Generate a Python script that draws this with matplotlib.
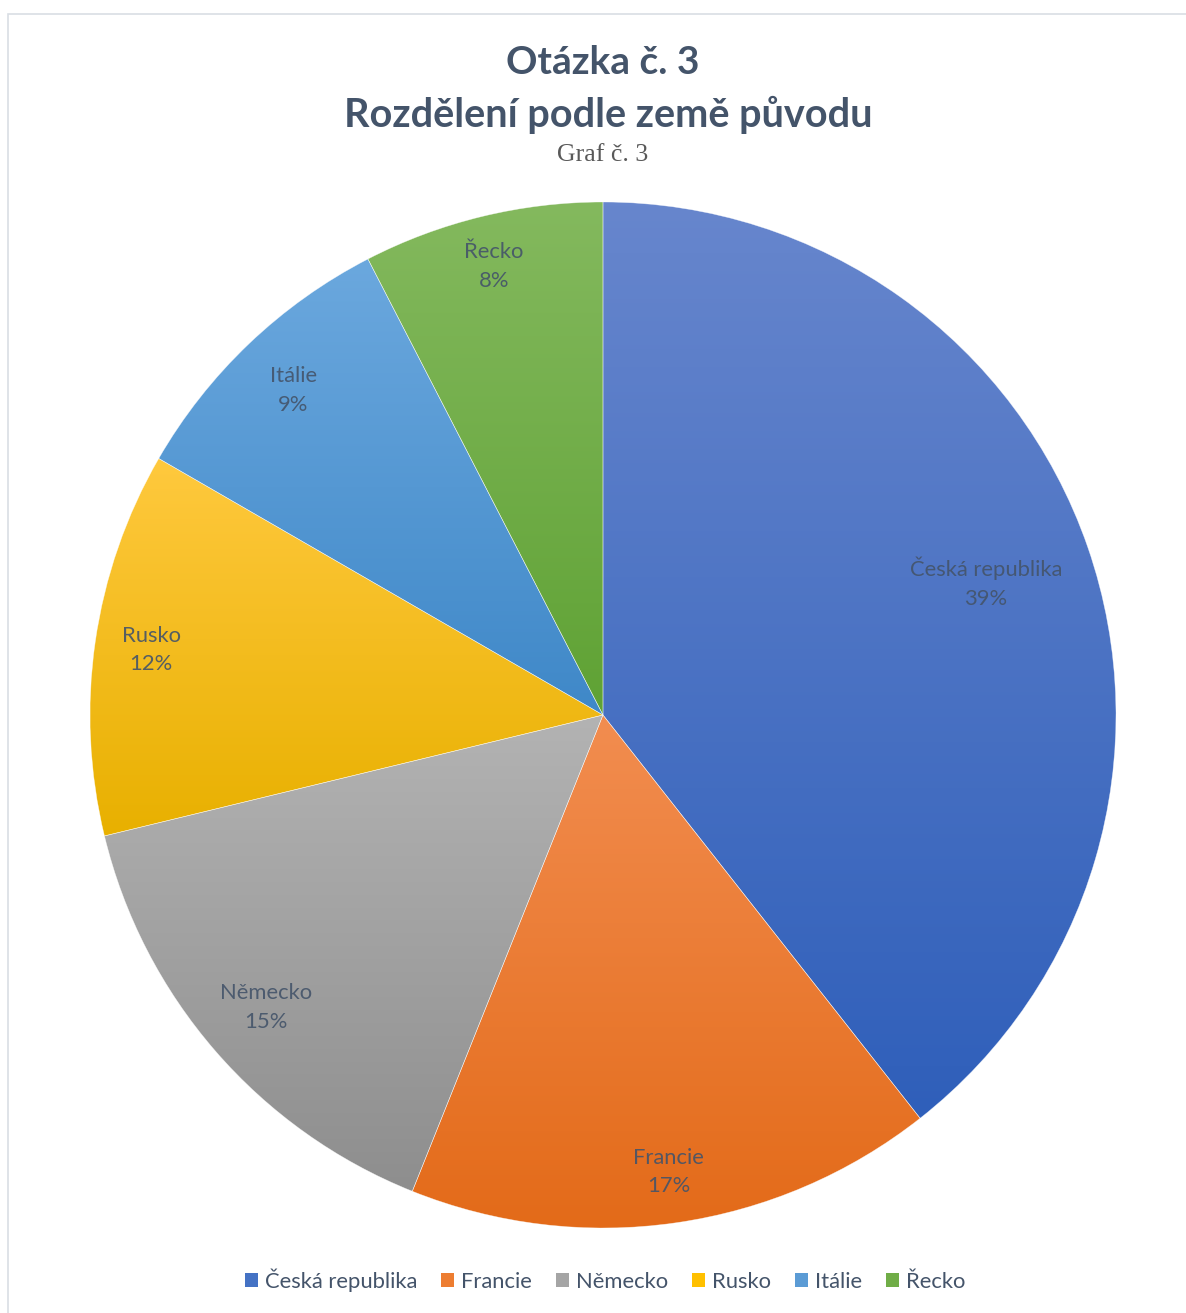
import numpy as np
import matplotlib.pyplot as plt
from matplotlib.colors import LinearSegmentedColormap
from matplotlib.patches import Rectangle

countries = ["Česká republika", "Francie", "Německo", "Rusko", "Itálie", "Řecko"]
counts = [26, 11, 10, 8, 6, 5]
percents = [round(100 * c / sum(counts)) for c in counts]

# gradient top -> bottom per slice (Office look)
top_colors = ["#6786cd", "#f28d50", "#b3b3b3", "#ffc93e", "#6ba8de", "#84b95e"]
bottom_colors = ["#2f5fba", "#e36a18", "#8e8e8e", "#e8b000", "#3f88c8", "#5fa234"]
base_colors = ["#4472c4", "#ed7d31", "#a5a5a5", "#ffc000", "#5b9bd5", "#70ad47"]
label_dist = [0.79, 0.90, 0.87, 0.89, 0.875, 0.90]

W, H = 1186, 1313
fig = plt.figure(figsize=(W / 100, H / 100), dpi=100)
fig.patch.set_facecolor("white")

# chart frame
fig.add_artist(Rectangle((8 / W, -0.01), 1.02, 1 - 14 / H + 0.01, transform=fig.transFigure,
                         fill=False, edgecolor="#d9dee4", linewidth=1.2))

title_color = "#44546a"
fig.text(603 / W, 1 - 62 / H, "Otázka č. 3", ha="center", va="center",
         fontsize=28, fontweight="bold", color=title_color, family="Lato")
fig.text(608 / W, 1 - 115 / H, "Rozdělení podle země původu", ha="center", va="center",
         fontsize=28.5, fontweight="bold", color=title_color, family="Lato")
fig.text(603 / W, 1 - 155 / H, "Graf č. 3", ha="center", va="center",
         fontsize=18.5, color="#595959", family="Liberation Serif")

cx, cy, r = 603, 715, 513
half = 520
ax = fig.add_axes([(cx - half) / W, (H - cy - half) / H, 2 * half / W, 2 * half / H])
lim = half / r
ax.set_xlim(-lim, lim)
ax.set_ylim(-lim, lim)
ax.set_aspect("equal")
ax.axis("off")

wedges, _ = ax.pie(counts, startangle=90, counterclock=False, radius=1,
                   colors=base_colors,
                   wedgeprops=dict(edgecolor=(1, 1, 1, 0.6), linewidth=0.4))

grad = np.linspace(0, 1, 256).reshape(-1, 1)
for w, c_top, c_bot in zip(wedges, top_colors, bottom_colors):
    verts = w.get_path().vertices
    x0, x1 = verts[:, 0].min(), verts[:, 0].max()
    y0, y1 = verts[:, 1].min(), verts[:, 1].max()
    cmap = LinearSegmentedColormap.from_list("g", [c_top, c_bot])
    im = ax.imshow(grad, cmap=cmap, extent=[x0, x1, y0, y1], origin="upper",
                   aspect="auto", zorder=1, interpolation="bilinear")
    im.set_clip_path(w)
    w.set_facecolor("none")
    w.set_zorder(2)

ax.set_xlim(-lim, lim)
ax.set_ylim(-lim, lim)

for w, name, val, d in zip(wedges, countries, percents, label_dist):
    ang = np.deg2rad((w.theta1 + w.theta2) / 2)
    ax.text(d * np.cos(ang), d * np.sin(ang), f"{name}\n{val}%", ha="center", va="center",
            fontsize=15.8, color="#44546a", alpha=0.9, family="Lato", linespacing=1.55, zorder=3)

handles = [Rectangle((0, 0), 1, 1, facecolor=c) for c in base_colors]
fig.legend(handles, countries, loc="center", bbox_to_anchor=(605 / W, 1 - 1280 / H),
           ncol=len(countries), frameon=False, handlelength=0.6, handleheight=0.6,
           handletextpad=0.3, columnspacing=1.1,
           prop={"family": "Lato", "size": 15.8}, labelcolor="#44546a")

fig.savefig("out.png", dpi=100, facecolor="white")
